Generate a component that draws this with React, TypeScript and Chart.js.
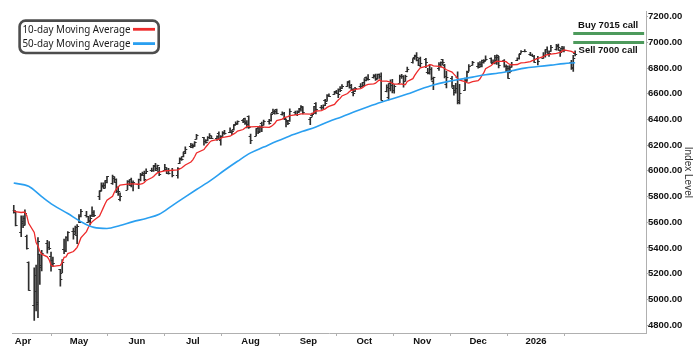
import React, { useEffect, useRef } from "react";
import { Chart, registerables } from "chart.js";

Chart.register(...registerables);

// ---------------- data ----------------
const firstTradingDay = "2025-03-27";
const lastTradingDay = "2026-01-22";
const marketHolidays = [
  "2025-04-18", "2025-05-26", "2025-06-19", "2025-07-04", "2025-09-01",
  "2025-11-27", "2025-12-25", "2026-01-01", "2026-01-19",
];

const opens = [
  5695, 5679, 5527, 5598, 5580, 5492, 5292, 4953, 5193, 4965, 5353, 5255, 5441, 5411, 5335, 5305, 5233, 5207, 5395, 5381,
  5489, 5529, 5508, 5500, 5625, 5645, 5655, 5605, 5614, 5660, 5679, 5808, 5854, 5892, 5870, 5929, 5902, 5944, 5910, 5842,
  5781, 5854, 5925, 5939, 5903, 5897, 5938, 5979, 5985, 5987, 6005, 6010, 6049, 6010, 5997, 6004, 6012, 5987, 6005, 5970,
  6061, 6100, 6112, 6151, 6194, 6188, 6191, 6246, 6260, 6235, 6240, 6262, 6255, 6255, 6296, 6254, 6270, 6305, 6304, 6306,
  6326, 6368, 6370, 6397, 6409, 6377, 6428, 6271, 6272, 6336, 6310, 6376, 6356, 6389, 6397, 6461, 6453, 6478, 6446, 6448,
  6404, 6385, 6394, 6458, 6441, 6458, 6489, 6500, 6401, 6435, 6445, 6530, 6499, 6497, 6550, 6545, 6588, 6596, 6625, 6610,
  6636, 6648, 6659, 6701, 6669, 6614, 6621, 6661, 6661, 6669, 6732, 6722, 6730, 6749, 6723, 6754, 6740, 6624, 6578, 6686,
  6688, 6630, 6687, 6736, 6741, 6700, 6775, 6845, 6889, 6902, 6864, 6880, 6873, 6769, 6764, 6796, 6699, 6800, 6816, 6867,
  6825, 6678, 6726, 6647, 6630, 6729, 6552, 6630, 6701, 6777, 6823, 6813, 6830, 6816, 6866, 6866, 6875, 6840, 6837, 6864,
  6889, 6864, 6814, 6815, 6800, 6812, 6865, 6875, 6917, 6935, 6913, 6900, 6896, 6878, 6880, 6903, 6947, 6910, 6935, 6945,
  6975, 6937, 6960, 6960, 6850, 6810, 6915,
];
const highs = [
  5732, 5685, 5651, 5650, 5696, 5500, 5292, 5246, 5267, 5481, 5353, 5381, 5460, 5450, 5367, 5328, 5233, 5309, 5469, 5489,
  5528, 5554, 5571, 5581, 5659, 5700, 5685, 5647, 5655, 5720, 5691, 5845, 5906, 5907, 5925, 5958, 5968, 5953, 5939, 5878,
  5829, 5924, 5930, 5943, 5922, 5937, 5981, 5990, 5999, 6016, 6021, 6044, 6059, 6045, 6027, 6050, 6023, 6019, 6019, 6026,
  6101, 6109, 6146, 6188, 6215, 6210, 6228, 6285, 6262, 6243, 6266, 6290, 6271, 6272, 6303, 6274, 6305, 6315, 6336, 6316,
  6360, 6382, 6390, 6401, 6410, 6391, 6428, 6287, 6330, 6344, 6351, 6379, 6396, 6402, 6446, 6481, 6474, 6481, 6459, 6456,
  6404, 6394, 6482, 6466, 6468, 6487, 6508, 6500, 6416, 6449, 6502, 6532, 6511, 6515, 6556, 6593, 6600, 6619, 6627, 6638,
  6656, 6671, 6696, 6702, 6674, 6640, 6650, 6679, 6689, 6718, 6733, 6750, 6749, 6754, 6753, 6755, 6764, 6669, 6679, 6709,
  6713, 6672, 6745, 6752, 6742, 6746, 6808, 6875, 6901, 6920, 6873, 6886, 6876, 6799, 6829, 6804, 6731, 6842, 6848, 6869,
  6829, 6775, 6736, 6665, 6682, 6770, 6674, 6722, 6776, 6828, 6853, 6843, 6851, 6862, 6866, 6895, 6879, 6865, 6899, 6904,
  6891, 6866, 6826, 6818, 6819, 6845, 6880, 6910, 6937, 6945, 6923, 6910, 6900, 6891, 6920, 6945, 6965, 6935, 6978, 6985,
  6986, 6945, 6970, 6967, 6860, 6900, 6935,
];
const lows = [
  5670, 5572, 5488, 5558, 5578, 5390, 5069, 4835, 4910, 4857, 5116, 5221, 5359, 5387, 5220, 5256, 5102, 5207, 5356, 5371,
  5455, 5468, 5506, 5434, 5597, 5642, 5640, 5598, 5579, 5644, 5644, 5775, 5843, 5867, 5865, 5907, 5895, 5910, 5830, 5808,
  5767, 5854, 5886, 5875, 5843, 5861, 5921, 5966, 5921, 5978, 5994, 5996, 6002, 6003, 5963, 6004, 5978, 5974, 5952, 5943,
  6056, 6081, 6108, 6133, 6180, 6178, 6191, 6246, 6201, 6215, 6234, 6251, 6251, 6237, 6243, 6201, 6268, 6284, 6303, 6282,
  6316, 6360, 6364, 6375, 6362, 6335, 6330, 6212, 6272, 6289, 6302, 6305, 6355, 6364, 6386, 6448, 6441, 6443, 6434, 6400,
  6343, 6360, 6385, 6438, 6429, 6455, 6465, 6444, 6360, 6423, 6445, 6443, 6479, 6478, 6507, 6543, 6578, 6596, 6600, 6569,
  6617, 6640, 6658, 6644, 6625, 6583, 6616, 6645, 6657, 6663, 6701, 6707, 6721, 6705, 6716, 6719, 6551, 6614, 6553, 6622,
  6606, 6604, 6687, 6720, 6652, 6700, 6770, 6838, 6868, 6855, 6818, 6810, 6803, 6754, 6752, 6707, 6632, 6781, 6810, 6827,
  6723, 6646, 6650, 6589, 6604, 6522, 6521, 6627, 6697, 6777, 6822, 6799, 6808, 6810, 6839, 6858, 6841, 6834, 6833, 6829,
  6801, 6807, 6772, 6720, 6763, 6807, 6858, 6870, 6917, 6925, 6897, 6893, 6845, 6825, 6875, 6885, 6918, 6890, 6930, 6940,
  6940, 6890, 6930, 6925, 6790, 6775, 6895,
];
const closes = [
  5693, 5581, 5612, 5633, 5671, 5396, 5074, 5062, 4982, 5457, 5268, 5363, 5406, 5397, 5276, 5283, 5158, 5288, 5376, 5485,
  5525, 5529, 5561, 5569, 5604, 5686, 5650, 5607, 5631, 5664, 5660, 5844, 5886, 5892, 5917, 5958, 5963, 5940, 5845, 5842,
  5802, 5922, 5889, 5912, 5912, 5936, 5970, 5971, 5939, 6000, 6006, 6038, 6022, 6045, 5977, 6033, 5982, 5981, 5967, 6025,
  6092, 6092, 6141, 6173, 6205, 6198, 6227, 6279, 6230, 6226, 6263, 6280, 6259, 6269, 6244, 6264, 6297, 6296, 6305, 6309,
  6359, 6363, 6389, 6390, 6371, 6362, 6339, 6238, 6330, 6299, 6345, 6340, 6389, 6374, 6446, 6466, 6469, 6450, 6449, 6411,
  6396, 6370, 6467, 6439, 6466, 6481, 6502, 6460, 6416, 6448, 6502, 6482, 6495, 6512, 6532, 6587, 6584, 6615, 6606, 6600,
  6631, 6664, 6693, 6656, 6638, 6605, 6644, 6661, 6688, 6711, 6715, 6716, 6740, 6714, 6753, 6735, 6553, 6654, 6644, 6671,
  6630, 6664, 6735, 6735, 6699, 6738, 6792, 6875, 6891, 6890, 6822, 6840, 6851, 6771, 6796, 6720, 6728, 6832, 6846, 6851,
  6737, 6734, 6672, 6617, 6642, 6538, 6603, 6705, 6766, 6813, 6849, 6812, 6829, 6850, 6857, 6870, 6846, 6841, 6887, 6901,
  6827, 6816, 6800, 6721, 6775, 6835, 6878, 6910, 6932, 6930, 6905, 6896, 6845, 6858, 6902, 6945, 6921, 6921, 6966, 6977,
  6963, 6926, 6944, 6940, 6797, 6876, 6913,
];

const ma10 = [
  5688, 5683, 5676, 5678, 5678, 5651, 5592, 5521, 5442, 5416, 5374, 5352, 5331, 5308, 5268, 5257, 5265, 5288, 5327, 5330,
  5356, 5372, 5388, 5405, 5438, 5478, 5527, 5559, 5585, 5603, 5616, 5648, 5680, 5712, 5744, 5771, 5802, 5836, 5857, 5875,
  5889, 5897, 5897, 5899, 5899, 5896, 5897, 5900, 5910, 5925, 5946, 5957, 5971, 5984, 5990, 6000, 6001, 6002, 6005, 6008,
  6016, 6022, 6034, 6046, 6069, 6086, 6110, 6140, 6166, 6186, 6203, 6222, 6234, 6244, 6248, 6254, 6261, 6263, 6270, 6279,
  6288, 6297, 6310, 6322, 6334, 6344, 6348, 6343, 6345, 6344, 6343, 6340, 6340, 6339, 6346, 6357, 6370, 6391, 6403, 6414,
  6419, 6422, 6430, 6436, 6438, 6440, 6443, 6444, 6441, 6445, 6455, 6466, 6469, 6476, 6483, 6494, 6502, 6517, 6536, 6552,
  6564, 6583, 6602, 6617, 6627, 6629, 6635, 6640, 6648, 6659, 6668, 6673, 6677, 6683, 6695, 6708, 6699, 6698, 6694, 6690,
  6681, 6676, 6675, 6677, 6672, 6672, 6696, 6718, 6743, 6765, 6784, 6802, 6813, 6817, 6827, 6825, 6818, 6814, 6810, 6806,
  6797, 6787, 6769, 6753, 6738, 6720, 6707, 6695, 6687, 6683, 6694, 6702, 6717, 6741, 6762, 6795, 6820, 6833, 6845, 6854,
  6852, 6852, 6850, 6837, 6828, 6825, 6828, 6835, 6840, 6842, 6850, 6858, 6863, 6876, 6889, 6900, 6904, 6906, 6909, 6914,
  6919, 6922, 6932, 6941, 6930, 6923, 6922,
];

const ma50Dates = [
  "2025-03-27", "2025-04-04", "2025-04-11", "2025-04-17", "2025-04-25", "2025-05-02", "2025-05-09", "2025-05-16",
  "2025-05-23", "2025-05-30", "2025-06-06", "2025-06-13", "2025-06-20", "2025-06-27", "2025-07-03", "2025-07-11",
  "2025-07-18", "2025-07-25", "2025-08-01", "2025-08-08", "2025-08-15", "2025-08-22", "2025-08-29", "2025-09-05",
  "2025-09-12", "2025-09-19", "2025-09-26", "2025-10-03", "2025-10-10", "2025-10-17", "2025-10-24", "2025-10-31",
  "2025-11-07", "2025-11-14", "2025-11-21", "2025-11-28", "2025-12-05", "2025-12-12", "2025-12-19", "2025-12-26",
  "2026-01-02", "2026-01-09", "2026-01-16", "2026-01-22",
];
const ma50 = [
  5905, 5880, 5800, 5735, 5668, 5605, 5560, 5552,
  5575, 5605, 5630, 5662, 5730, 5798, 5855, 5930,
  6005, 6075, 6140, 6185, 6230, 6272, 6308, 6342,
  6385, 6422, 6462, 6500, 6535, 6565, 6598, 6635,
  6668, 6693, 6712, 6730, 6748, 6762, 6780, 6800,
  6812, 6823, 6835, 6842,
];

const monthTicks = [
  "2025-04-01", "2025-05-01", "2025-06-01", "2025-07-01", "2025-08-01",
  "2025-09-01", "2025-10-01", "2025-11-01", "2025-12-01", "2026-01-01",
];
const monthLabels = ["Apr", "May", "Jun", "Jul", "Aug", "Sep", "Oct", "Nov", "Dec", "2026"];
const priceTicks = [4800, 5000, 5200, 5400, 5600, 5800, 6000, 6200, 6400, 6600, 6800, 7000, 7200];

const buyLabel = "Buy 7015 call";
const sellLabel = "Sell 7000 call";
const buyLineLevel = 7070;
const sellLineLevel = 7000;
const tradeLineStart = "2026-01-21";
const tradeLineEnd = "2026-02-28";

const legendLabels = ["10-day Moving Average", "50-day Moving Average"];

// ---------------- helpers ----------------
const DAY0 = Date.UTC(2025, 3, 1);
function dayNum(s: string): number {
  const [y, m, d] = s.split("-").map(Number);
  return (Date.UTC(y, m - 1, d) - DAY0) / 86400000;
}
function tradingDays(): string[] {
  const out: string[] = [];
  const [y0, m0, d0] = firstTradingDay.split("-").map(Number);
  const [y1, m1, d1] = lastTradingDay.split("-").map(Number);
  const end = Date.UTC(y1, m1 - 1, d1);
  for (let t = Date.UTC(y0, m0 - 1, d0); t <= end; t += 86400000) {
    const dt = new Date(t);
    const wd = dt.getUTCDay();
    const iso = dt.toISOString().slice(0, 10);
    if (wd === 0 || wd === 6 || marketHolidays.includes(iso)) continue;
    out.push(iso);
  }
  return out;
}
const dates = tradingDays();

const X_MIN = -5.55;
const X_MAX = 334;
const Y_MIN = 4738;
const Y_MAX = 7239;

const BAR = "#2e2e2e";
const RED = "#ee2b2b";
const BLUE = "#2a9ff0";
const GREEN = "#4d9a5c";
const FONT = "'Liberation Sans', Arial, sans-serif";

const ohlcTicks = {
  id: "ohlcTicks",
  afterDatasetDraw(chart: any, args: any) {
    if (args.index !== 0) return;
    const { ctx, chartArea } = chart;
    const x = chart.scales.x;
    const y = chart.scales.y;
    ctx.save();
    ctx.beginPath();
    ctx.rect(chartArea.left, chartArea.top, chartArea.width, chartArea.height);
    ctx.clip();
    ctx.strokeStyle = BAR;
    ctx.lineWidth = 1;
    ctx.beginPath();
    dates.forEach((d, i) => {
      const px = x.getPixelForValue(dayNum(d));
      const yo = Math.round(y.getPixelForValue(opens[i])) + 0.5;
      const yc = Math.round(y.getPixelForValue(closes[i])) + 0.5;
      ctx.moveTo(px - 2, yo);
      ctx.lineTo(px, yo);
      ctx.moveTo(px, yc);
      ctx.lineTo(px + 2, yc);
    });
    ctx.stroke();
    ctx.restore();
  },
};

const overlay = {
  id: "overlay",
  afterDraw(chart: any) {
    const { ctx } = chart;
    const x = chart.scales.x;
    const y = chart.scales.y;
    ctx.save();
    // trade labels
    const xs = x.getPixelForValue(dayNum(tradeLineStart));
    const xe = chart.chartArea.right;
    const mid = (xs + xe) / 2 - 1.5;
    ctx.fillStyle = "#111";
    ctx.font = `bold 9.5px ${FONT}`;
    ctx.textAlign = "center";
    ctx.textBaseline = "middle";
    ctx.fillText(buyLabel, mid, y.getPixelForValue(buyLineLevel) - 8.5);
    ctx.fillText(sellLabel, mid, y.getPixelForValue(sellLineLevel) + 8);

    // legend box
    ctx.lineWidth = 2.6;
    ctx.strokeStyle = "#4d4d4d";
    ctx.fillStyle = "#ffffff";
    ctx.beginPath();
    if ((ctx as any).roundRect) (ctx as any).roundRect(19.6, 20.6, 139.1, 32.4, 6);
    else ctx.rect(19.6, 20.6, 139.1, 32.4);
    ctx.fill();
    ctx.stroke();

    ctx.font = `11.5px 'Noto Sans', ${FONT}`;
    ctx.textAlign = "left";
    ctx.textBaseline = "middle";
    ctx.fillStyle = "#1a1a1a";
    const rows = [29.3, 43.6];
    const colors = [RED, BLUE];
    legendLabels.forEach((t, i) => {
      const w = ctx.measureText(t).width;
      ctx.save();
      ctx.translate(22.5, rows[i]);
      ctx.scale(108 / w, 1);
      ctx.fillText(t, 0, 0);
      ctx.restore();
      ctx.strokeStyle = colors[i];
      ctx.lineWidth = 2.8;
      ctx.beginPath();
      ctx.moveTo(133, rows[i]);
      ctx.lineTo(155, rows[i]);
      ctx.stroke();
    });
    ctx.restore();
  },
};

export default function App() {
  const ref = useRef<HTMLCanvasElement | null>(null);
  useEffect(() => {
    if (!ref.current) return;
    const barData = dates.map((d, i) => ({ x: dayNum(d), y: [lows[i], highs[i]] }));
    const ma10Data = dates.map((d, i) => ({ x: dayNum(d), y: ma10[i] }));
    const ma50Data = ma50Dates.map((d, i) => ({ x: dayNum(d), y: ma50[i] }));
    const chart = new Chart(ref.current, {
      type: "bar",
      data: {
        datasets: [
          {
            type: "bar",
            label: "Price",
            data: barData as any,
            backgroundColor: BAR,
            barThickness: 1,
            borderWidth: 0,
            grouped: false,
            order: 5,
          } as any,
          {
            type: "line",
            label: legendLabels[0],
            data: ma10Data as any,
            borderColor: RED,
            borderWidth: 1.3,
            pointRadius: 0,
            tension: 0,
            order: 2,
          } as any,
          {
            type: "line",
            label: legendLabels[1],
            data: ma50Data as any,
            borderColor: BLUE,
            borderWidth: 1.6,
            pointRadius: 0,
            cubicInterpolationMode: "monotone",
            order: 1,
          } as any,
          {
            type: "line",
            label: buyLabel,
            data: [
              { x: dayNum(tradeLineStart), y: buyLineLevel },
              { x: dayNum(tradeLineEnd), y: buyLineLevel },
            ] as any,
            borderColor: GREEN,
            borderWidth: 3,
            pointRadius: 0,
            order: 0,
          } as any,
          {
            type: "line",
            label: sellLabel,
            data: [
              { x: dayNum(tradeLineStart), y: sellLineLevel },
              { x: dayNum(tradeLineEnd), y: sellLineLevel },
            ] as any,
            borderColor: GREEN,
            borderWidth: 3,
            pointRadius: 0,
            order: 0,
          } as any,
        ],
      },
      options: {
        animation: false,
        responsive: false,
        maintainAspectRatio: false,
        events: [],
        layout: { padding: { left: 12.7, top: 11.7, right: 0, bottom: 0 } },
        plugins: { legend: { display: false }, tooltip: { enabled: false } },
        scales: {
          x: {
            type: "linear",
            min: X_MIN,
            max: X_MAX,
            offset: false,
            afterBuildTicks: (s: any) => {
              s.ticks = monthTicks.map((d) => ({ value: dayNum(d) }));
            },
            afterFit: (s: any) => {
              s.height = 25;
            },
            grid: { drawOnChartArea: false, drawTicks: true, tickLength: 3, color: "#b0b0b0" },
            border: { display: true, color: "#b0b0b0", width: 1 },
            ticks: {
              autoSkip: false,
              maxRotation: 0,
              padding: 0,
              color: "#111",
              font: { family: FONT, size: 9.5, weight: "bold" },
              callback: (_v: any, i: number) => monthLabels[i],
            },
          },
          y: {
            type: "linear",
            position: "right",
            min: Y_MIN,
            max: Y_MAX,
            afterBuildTicks: (s: any) => {
              s.ticks = priceTicks.map((v) => ({ value: v }));
            },
            afterFit: (s: any) => {
              s.width = 54;
            },
            grid: { drawOnChartArea: false, drawTicks: true, tickLength: 2, color: "#b0b0b0" },
            border: { display: true, color: "#b0b0b0", width: 1 },
            ticks: {
              padding: 0,
              color: "#111",
              font: { family: FONT, size: 9.5, weight: "bold" },
              callback: (v: any) => Number(v).toFixed(2),
            },
            title: {
              display: true,
              text: "Index Level",
              color: "#333",
              font: { family: FONT, size: 10 },
              padding: { top: 6, bottom: 0 },
            },
          },
        },
      } as any,
      plugins: [ohlcTicks, overlay],
    });
    return () => chart.destroy();
  }, []);

  return (
    <div style={{ position: "absolute", left: 0, top: 0, width: 700, height: 358, background: "#fff" }}>
      <canvas ref={ref} width={700} height={358} style={{ width: 700, height: 358, display: "block" }} />
    </div>
  );
}
